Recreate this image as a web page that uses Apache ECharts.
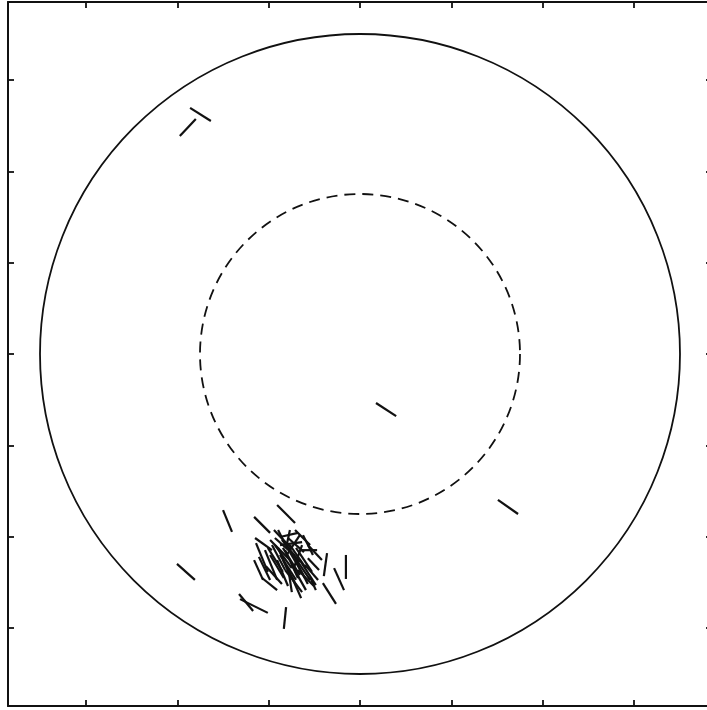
<!DOCTYPE html>
<html>
<head>
<meta charset="utf-8">
<script src="https://cdn.jsdelivr.net/npm/echarts@6/dist/echarts.min.js"></script>
<style>
  html, body { margin: 0; padding: 0; background: #fff; overflow: hidden; }
  #main { width: 720px; height: 710px; }
</style>
</head>
<body>
<div id="main"></div>
<script>
// tick positions (no labels in the picture)
var tickValues = [-0.857, -0.571, -0.286, 0, 0.286, 0.571, 0.857];

// reference circles round the origin
var circleR = [1, 0.5];
var circleDashed = [false, true];

// short segments, start and end point
var segX1 = [-0.531, -0.513, 0.050, 0.431, -0.572, -0.428, -0.259, -0.331, -0.103, -0.044,
             -0.081, -0.116, -0.378, -0.375, -0.231, -0.328, -0.325, -0.331, -0.316, -0.306,
             -0.297, -0.256, -0.250, -0.219, -0.178, -0.188, -0.163, -0.213, -0.225, -0.156,
             -0.281, -0.275, -0.266, -0.256, -0.244, -0.234, -0.219, -0.209, -0.200, -0.188,
             -0.241, -0.259, -0.281, -0.225, -0.213, -0.194, -0.250, -0.188, -0.203, -0.172,
             -0.294, -0.269, -0.181, -0.234, -0.163, -0.266, -0.241, -0.219, -0.288, -0.203,
             -0.250];
var segY1 = [0.769, 0.734, -0.153, -0.456, -0.656, -0.488, -0.472, -0.509, -0.622, -0.628,
             -0.669, -0.716, -0.750, -0.766, -0.791, -0.575, -0.591, -0.644, -0.634, -0.700,
             -0.613, -0.550, -0.572, -0.550, -0.566, -0.613, -0.638, -0.697, -0.666, -0.697,
             -0.581, -0.597, -0.575, -0.606, -0.581, -0.613, -0.597, -0.628, -0.606, -0.644,
             -0.644, -0.644, -0.628, -0.575, -0.659, -0.675, -0.597, -0.566, -0.550, -0.659,
             -0.663, -0.550, -0.597, -0.675, -0.597, -0.597, -0.606, -0.619, -0.606, -0.641,
             -0.628];
var segX2 = [-0.466, -0.563, 0.113, 0.494, -0.516, -0.400, -0.203, -0.281, -0.113, -0.044,
             -0.050, -0.075, -0.334, -0.288, -0.238, -0.275, -0.288, -0.303, -0.281, -0.259,
             -0.259, -0.234, -0.194, -0.231, -0.147, -0.134, -0.128, -0.184, -0.213, -0.138,
             -0.219, -0.234, -0.203, -0.219, -0.188, -0.194, -0.169, -0.156, -0.150, -0.138,
             -0.200, -0.225, -0.238, -0.175, -0.169, -0.144, -0.181, -0.231, -0.156, -0.131,
             -0.244, -0.213, -0.206, -0.181, -0.119, -0.213, -0.188, -0.172, -0.241, -0.163,
             -0.200];
var segY2 = [0.728, 0.681, -0.194, -0.500, -0.706, -0.556, -0.528, -0.559, -0.694, -0.703,
             -0.738, -0.781, -0.803, -0.809, -0.859, -0.613, -0.681, -0.706, -0.706, -0.738,
             -0.706, -0.594, -0.559, -0.606, -0.628, -0.613, -0.675, -0.763, -0.744, -0.738,
             -0.644, -0.675, -0.631, -0.691, -0.650, -0.700, -0.669, -0.706, -0.681, -0.722,
             -0.722, -0.725, -0.700, -0.619, -0.738, -0.725, -0.588, -0.631, -0.597, -0.706,
             -0.719, -0.609, -0.666, -0.744, -0.644, -0.669, -0.691, -0.700, -0.681, -0.719,
             -0.706];

var segData = [];
for (var i = 0; i < segX1.length; i++) {
    segData.push([segX1[i], segY1[i], segX2[i], segY2[i]]);
}
var circleData = [];
for (var j = 0; j < circleR.length; j++) {
    circleData.push([0, 0, circleR[j], circleDashed[j] ? 1 : 0]);
}

var myChart = echarts.init(document.getElementById('main'), null, { renderer: 'canvas' });

function makeAxis(pos) {
    return {
        type: 'value',
        position: pos,
        min: -1.1,
        max: 1.1,
        axisLine: { show: true, onZero: false, lineStyle: { color: '#111', width: 2 } },
        axisTick: { show: true, inside: true, length: 6, customValues: tickValues,
                    lineStyle: { color: '#111', width: 1.8 } },
        axisLabel: { show: false },
        splitLine: { show: false }
    };
}

var option = {
    animation: false,
    backgroundColor: '#fff',
    grid: { left: 8, top: 2, width: 704, height: 704 },
    xAxis: [makeAxis('bottom'), makeAxis('top')],
    yAxis: [makeAxis('left'), makeAxis('right')],
    series: [
        {
            type: 'custom',
            xAxisIndex: 0,
            yAxisIndex: 0,
            data: circleData,
            encode: { x: 0, y: 1 },
            renderItem: function (params, api) {
                var c = api.coord([api.value(0), api.value(1)]);
                var r = api.size([api.value(2), 0])[0];
                return {
                    type: 'circle',
                    shape: { cx: c[0], cy: c[1], r: r },
                    style: {
                        fill: 'none',
                        stroke: '#111',
                        lineWidth: 1.8,
                        lineDash: api.value(3) ? [11, 7] : null
                    }
                };
            }
        },
        {
            type: 'custom',
            xAxisIndex: 0,
            yAxisIndex: 0,
            data: segData,
            encode: { x: [0, 2], y: [1, 3] },
            renderItem: function (params, api) {
                var p1 = api.coord([api.value(0), api.value(1)]);
                var p2 = api.coord([api.value(2), api.value(3)]);
                return {
                    type: 'line',
                    shape: { x1: p1[0], y1: p1[1], x2: p2[0], y2: p2[1] },
                    style: { stroke: '#111', lineWidth: 2.2 }
                };
            }
        }
    ]
};
myChart.setOption(option);
</script>
</body>
</html>
